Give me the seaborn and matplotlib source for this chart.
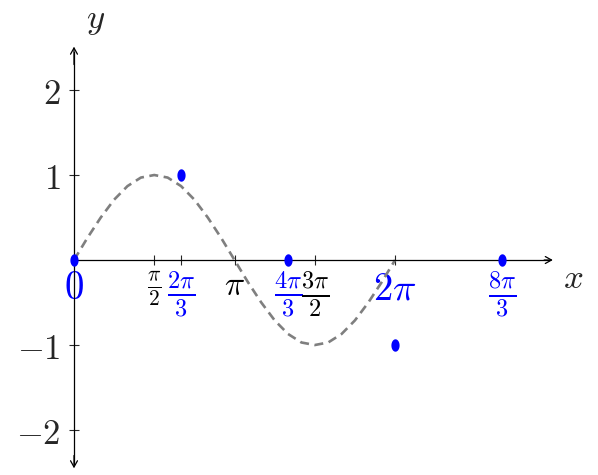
import numpy as np
import seaborn as sns
import matplotlib.pyplot as plt
from matplotlib.markers import MarkerStyle

# values (x given in multiples of pi)
curve_x_pi = [i / 12 for i in range(25)]
curve_y = [0, 0.26, 0.5, 0.71, 0.87, 0.97, 1.0, 0.97, 0.87, 0.71, 0.5, 0.26, 0,
           -0.26, -0.5, -0.71, -0.87, -0.97, -1.0, -0.97, -0.87, -0.71, -0.5, -0.26, 0]
points_x_pi = [0, 2 / 3, 4 / 3, 2, 8 / 3]
points_y = [0, 1, 0, -1, 0]

xtick_pi = [0, 1 / 2, 2 / 3, 1, 4 / 3, 3 / 2, 2, 8 / 3]
xtick_labels = [r"$0$", r"$\frac{\pi}{2}$", r"$\frac{2\pi}{3}$", r"$\pi$",
                r"$\frac{4\pi}{3}$", r"$\frac{3\pi}{2}$", r"$2\pi$", r"$\frac{8\pi}{3}$"]
yticks = [-2, -1, 1, 2]
ytick_labels = [r"$-2$", r"$-1$", r"$1$", r"$2$"]

# styling per x tick
xtick_colors = ["blue", "black", "blue", "black", "blue", "black", "blue", "blue"]
xtick_sizes = [28, 22, 25, 24, 25, 25, 28, 25]

sns.set_style("white")
plt.rcParams["mathtext.fontset"] = "cm"
plt.rcParams["font.family"] = ["DejaVu Sans"]

fig = plt.figure(figsize=(5.98, 4.75), dpi=100)
ax = fig.add_axes([0, 0, 1, 1])
ax.set_xlim(-1.448, 10.254)
ax.set_ylim(-2.529, 3.059)
ax.patch.set_alpha(0)

curve_x = np.pi * np.array(curve_x_pi)
sns.lineplot(x=curve_x, y=curve_y, ax=ax, color="#7f7f7f", lw=1.9,
             linestyle=(0, (3.4, 2.1)), sort=False, zorder=2)

t = np.linspace(0, 2 * np.pi, 40)
ellipse = MarkerStyle(np.column_stack([0.66 * np.cos(t), np.sin(t)]))
sns.scatterplot(x=np.pi * np.array(points_x_pi), y=points_y, ax=ax, marker=ellipse,
                s=80, color="blue", edgecolor="blue", linewidth=0, zorder=4)

# axes through origin
for side in ["top", "right"]:
    ax.spines[side].set_visible(False)
ax.spines["left"].set_position(("data", 0))
ax.spines["bottom"].set_position(("data", 0))
ax.spines["left"].set_bounds(-2.4, 2.45)
ax.spines["bottom"].set_bounds(0, 9.3)
for side in ["left", "bottom"]:
    ax.spines[side].set_linewidth(0.9)
    ax.spines[side].set_color("black")

arrow = dict(arrowstyle="->,head_length=0.45,head_width=0.25", lw=0.9, color="black",
             shrinkA=0, shrinkB=0)
ax.annotate("", xy=(9.37, 0), xytext=(9.2, 0), arrowprops=arrow)
ax.annotate("", xy=(0, 2.51), xytext=(0, 2.3), arrowprops=arrow)
ax.annotate("", xy=(0, -2.45), xytext=(0, -2.3), arrowprops=arrow)

ax.set_xticks(np.pi * np.array(xtick_pi), xtick_labels)
ax.set_yticks(yticks, ytick_labels)
ax.tick_params(axis="both", direction="inout", length=7.5, width=0.8,
               bottom=True, left=True)
ax.tick_params(axis="x", pad=3)
ax.tick_params(axis="y", pad=6, labelsize=25)
for tick, c, s in zip(ax.xaxis.get_major_ticks(), xtick_colors, xtick_sizes):
    tick.label1.set_color(c)
    tick.label1.set_fontsize(s)
    tick.tick1line.set_color(c)
ax.grid(False)

ax.text(9.765, -0.212, r"$x$", fontsize=25, ha="center", va="center")
ax.text(0.43, 2.82, r"$y$", fontsize=25, ha="center", va="center")

fig.savefig("out.png", dpi=100)
